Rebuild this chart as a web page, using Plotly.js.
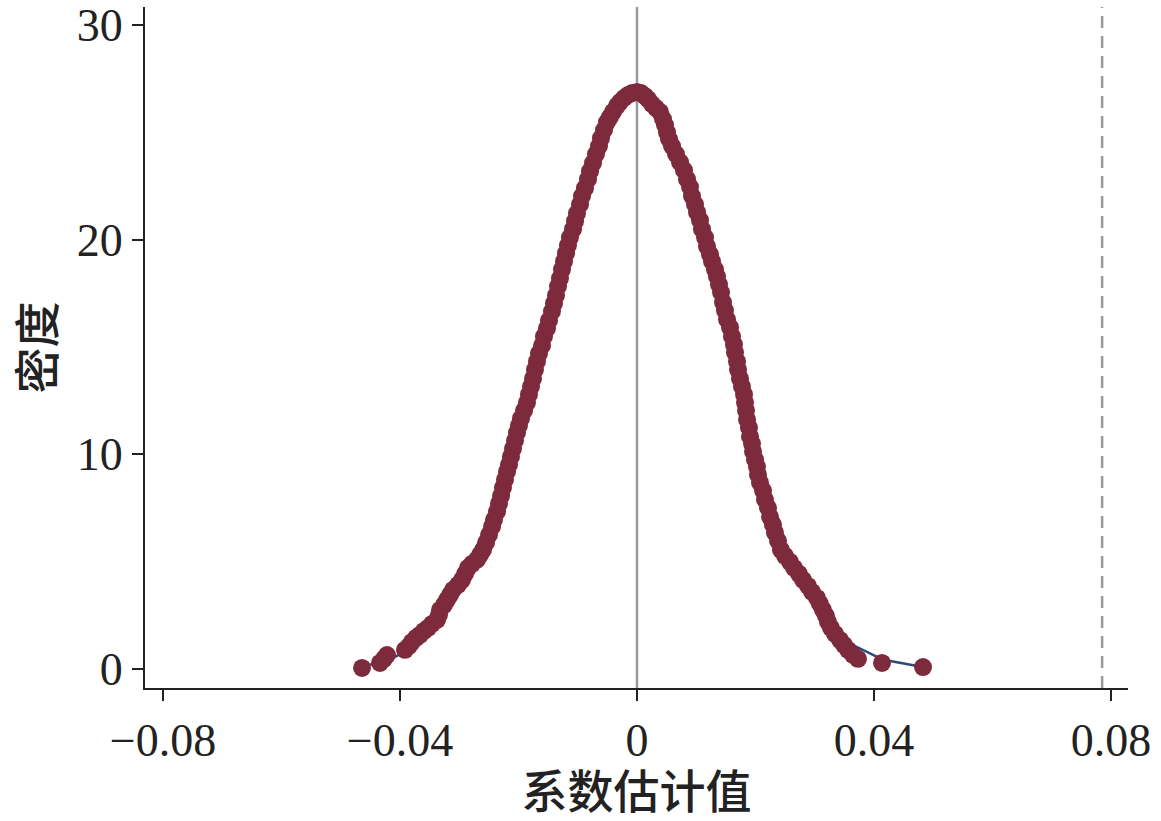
<!DOCTYPE html>
<html>
<head>
<meta charset="utf-8">
<script src="https://cdn.plot.ly/plotly-3.0.1.min.js"></script>
<style>html,body{margin:0;padding:0;background:#fff;}#chart{width:1161px;height:821px;}</style>
</head>
<body>
<div id="chart"></div>
<script>
// Coefficient estimates (x) and their kernel density height (y)
const estX = [
-0.04641,-0.04338,-0.04270,-0.04220,-0.03916,-0.03848,-0.03798,-0.03730,-0.03663,-0.03595,
-0.03527,-0.03460,-0.03376,-0.03342,-0.03325,-0.03257,-0.03207,-0.03156,-0.03106,-0.03021,
-0.02954,-0.02903,-0.02852,-0.02785,-0.02700,-0.02650,-0.02599,-0.02549,-0.02498,-0.02447,
-0.02414,-0.02363,-0.02329,-0.02295,-0.02262,-0.02228,-0.02194,-0.02160,-0.02127,-0.02093,
-0.02059,-0.02025,-0.01992,-0.01958,-0.01907,-0.01857,-0.01823,-0.01789,-0.01755,-0.01722,
-0.01688,-0.01654,-0.01603,-0.01570,-0.01519,-0.01485,-0.01435,-0.01401,-0.01367,-0.01333,
-0.01300,-0.01266,-0.01232,-0.01198,-0.01165,-0.01131,-0.01080,-0.01046,-0.01013,-0.00962,
-0.00928,-0.00878,-0.00827,-0.00793,-0.00743,-0.00692,-0.00641,-0.00608,-0.00557,-0.00506,
-0.00456,-0.00405,-0.00338,-0.00287,-0.00219,-0.00152,-0.00084,0.00000,
0.00068,0.00135,0.00186,0.00253,0.00321,0.00388,0.00439,0.00473,0.00506,0.00540,
0.00591,0.00658,0.00726,0.00793,0.00844,0.00895,0.00928,0.00979,0.01013,0.01063,
0.01097,0.01148,0.01181,0.01232,0.01266,0.01316,0.01350,0.01384,0.01418,0.01452,
0.01485,0.01519,0.01570,0.01603,0.01637,0.01654,0.01688,0.01705,0.01738,0.01772,
0.01806,0.01823,0.01840,0.01857,0.01890,0.01907,0.01941,0.01958,0.01992,0.02025,
0.02042,0.02076,0.02127,0.02160,0.02211,0.02245,0.02295,0.02329,0.02380,0.02430,
0.02498,0.02582,0.02650,0.02734,0.02802,0.02886,0.02954,0.03038,0.03089,0.03139,
0.03190,0.03224,0.03274,0.03342,0.03426,0.03494,0.03561,0.03646,0.03730,0.04135,0.04827
];
const estY = [
0.05,0.28,0.47,0.65,0.89,1.07,1.26,1.45,1.59,1.77,
1.91,2.10,2.29,2.52,2.75,2.99,3.22,3.45,3.69,3.92,
4.15,4.43,4.71,4.90,5.09,5.32,5.55,5.88,6.25,6.63,
6.95,7.33,7.70,8.07,8.45,8.82,9.19,9.52,9.89,10.27,
10.64,11.01,11.34,11.67,12.04,12.41,12.79,13.16,13.53,13.95,
14.33,14.70,15.07,15.49,15.87,16.24,16.66,17.03,17.41,17.83,
18.20,18.62,18.99,19.37,19.74,20.11,20.49,20.86,21.23,21.65,
22.03,22.40,22.82,23.19,23.57,23.99,24.36,24.73,25.11,25.48,
25.71,25.95,26.23,26.41,26.60,26.74,26.83,26.88,
26.83,26.69,26.55,26.32,26.13,25.95,25.62,25.34,25.01,24.69,
24.36,23.99,23.61,23.24,22.82,22.45,22.03,21.65,21.28,20.91,
20.49,20.11,19.69,19.32,18.99,18.62,18.29,17.92,17.55,17.08,
16.71,16.29,15.91,15.49,15.12,14.75,14.33,13.95,13.53,13.16,
12.79,12.41,12.04,11.62,11.25,10.83,10.50,10.13,9.75,9.43,
9.05,8.68,8.31,7.89,7.51,7.09,6.72,6.35,5.97,5.55,
5.27,4.99,4.71,4.43,4.15,3.87,3.59,3.31,3.03,2.75,
2.47,2.19,1.91,1.63,1.35,1.12,0.89,0.65,0.47,0.28,0.09
];
// Kernel density line
const kdeX = [
-0.04641,-0.04506,-0.04338,-0.04169,-0.04051,-0.03916,-0.03798,-0.03663,-0.03527,-0.03376,
-0.03325,-0.03207,-0.03106,-0.02954,-0.02852,-0.02700,-0.02599,-0.02498,-0.02414,-0.02329,
-0.02262,-0.02194,-0.02127,-0.02059,-0.01992,-0.01907,-0.01823,-0.01755,-0.01688,-0.01603,
-0.01519,-0.01435,-0.01367,-0.01300,-0.01232,-0.01165,-0.01080,-0.01013,-0.00928,-0.00827,
-0.00743,-0.00641,-0.00557,-0.00456,-0.00338,-0.00219,-0.00084,0.00000,
0.00135,0.00253,0.00388,0.00473,0.00540,0.00658,0.00793,0.00895,0.00979,0.01063,
0.01148,0.01232,0.01316,0.01384,0.01452,0.01519,0.01603,0.01654,0.01705,0.01772,
0.01823,0.01857,0.01907,0.01958,0.02025,0.02076,0.02160,0.02245,0.02329,0.02430,
0.02582,0.02734,0.02886,0.03038,0.03139,0.03224,0.03342,0.03510,0.03679,0.03848,
0.04017,0.04270,0.04523,0.04827
];
const kdeY = [
0.09,0.19,0.33,0.47,0.61,0.89,1.26,1.59,1.91,2.29,
2.75,3.22,3.69,4.15,4.71,5.09,5.55,6.25,6.95,7.70,
8.45,9.19,9.89,10.64,11.34,12.04,12.79,13.53,14.33,15.07,
15.87,16.66,17.41,18.20,18.99,19.74,20.49,21.23,22.03,22.82,
23.57,24.36,25.11,25.71,26.23,26.60,26.83,26.88,
26.69,26.32,25.95,25.34,24.69,23.99,23.24,22.45,21.65,20.91,
20.11,19.32,18.62,17.92,17.08,16.29,15.49,14.75,13.95,13.16,
12.41,11.62,10.83,10.13,9.43,8.68,7.89,7.09,6.35,5.55,
4.99,4.43,3.87,3.31,2.75,2.19,1.63,1.31,1.07,0.84,
0.61,0.37,0.23,0.09
];
const xTickVals = [-0.08, -0.04, 0, 0.04, 0.08];
const xTickText = ["\u22120.08", "\u22120.04", "0", "0.04", "0.08"];
const yTickVals = [0, 10, 20, 30];
const refLineX = 0.0785;

const serif = "Liberation Serif, Times New Roman, serif";
const cjk = "Noto Sans CJK SC, sans-serif";

const traces = [
  {x: kdeX, y: kdeY, type: "scatter", mode: "lines",
   line: {color: "#2b4a78", width: 2.5}, hoverinfo: "skip", showlegend: false},
  {x: estX, y: estY, type: "scatter", mode: "markers",
   marker: {color: "#7e2a3d", size: 18, line: {width: 0}}, showlegend: false}
];

const layout = {
  width: 1161, height: 821,
  margin: {l: 145, r: 33, t: 7, b: 133},
  paper_bgcolor: "#ffffff", plot_bgcolor: "#ffffff",
  showlegend: false,
  xaxis: {
    range: [-0.08304, 0.08287], showgrid: false, zeroline: false,
    showline: true, linecolor: "#222", linewidth: 2,
    ticks: "outside", ticklen: 11, tickwidth: 2, tickcolor: "#222",
    tickvals: xTickVals, ticktext: xTickText,
    tickfont: {family: serif, size: 46, color: "#222"},
    title: {text: "系数估计值", font: {family: cjk, size: 46, color: "#222", weight: 500}, standoff: 19},
    automargin: false
  },
  yaxis: {
    range: [-0.887, 30.84], showgrid: false, zeroline: false,
    showline: true, linecolor: "#222", linewidth: 2,
    ticks: "outside", ticklen: 11, tickwidth: 2, tickcolor: "#222",
    tickvals: yTickVals,
    tickfont: {family: serif, size: 46, color: "#222"},
    title: {text: "密度", font: {family: cjk, size: 46, color: "#222", weight: 500}, standoff: 8},
    automargin: false
  },
  shapes: [
    {type: "line", xref: "x", yref: "paper", x0: 0, x1: 0, y0: 0, y1: 1,
     line: {color: "#999999", width: 2.5}, layer: "below"},
    {type: "line", xref: "x", yref: "paper", x0: refLineX, x1: refLineX, y0: 0, y1: 1,
     line: {color: "#999999", width: 2.5, dash: "12px,8px"}, layer: "below"}
  ]
};

Plotly.newPlot("chart", traces, layout, {staticPlot: true, displayModeBar: false});
</script>
</body>
</html>
